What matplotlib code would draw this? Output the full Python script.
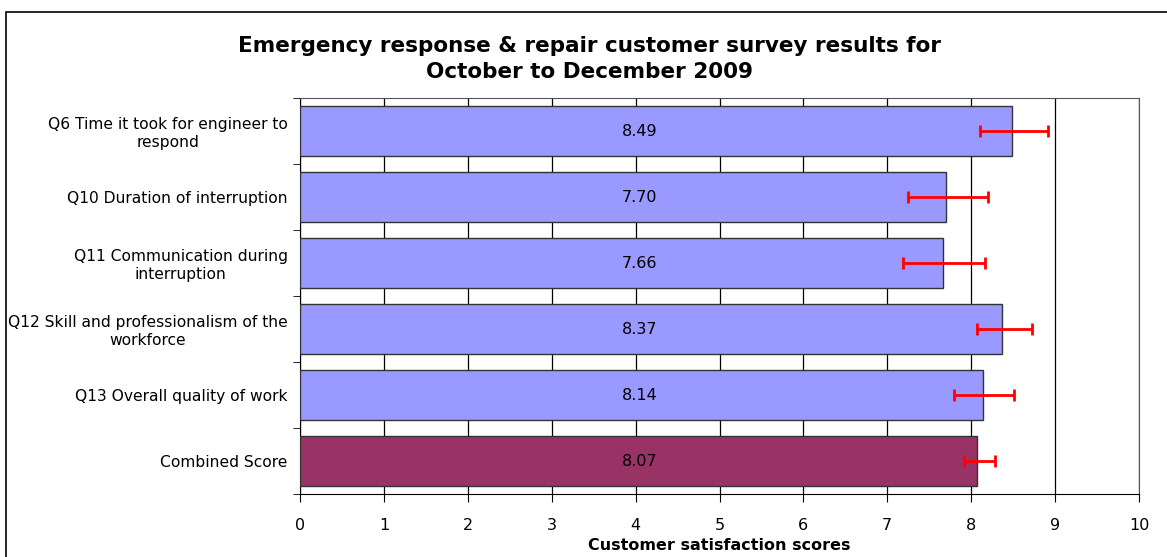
import matplotlib
matplotlib.use("Agg")
import matplotlib.pyplot as plt
from matplotlib.patches import Rectangle
import numpy as np

categories = [
    "Q6 Time it took for engineer to\nrespond",
    "Q10 Duration of interruption",
    "Q11 Communication during\ninterruption",
    "Q12 Skill and professionalism of the\nworkforce",
    "Q13 Overall quality of work",
    "Combined Score",
]
scores = [8.49, 7.70, 7.66, 8.37, 8.14, 8.07]
ci_low = [8.10, 7.25, 7.19, 8.07, 7.79, 7.91]
ci_high = [8.91, 8.20, 8.16, 8.72, 8.51, 8.28]
bar_colors = ["#9999FF"] * 5 + ["#993366"]
x_ticks = list(range(0, 11))

fig = plt.figure(figsize=(11.67, 5.57), dpi=100)
fig.patches.append(Rectangle((6 / 1167, -0.05), 1.2, 1 - 12 / 557 + 0.05,
                             transform=fig.transFigure, fill=False,
                             edgecolor="black", linewidth=1.2))
ax = fig.add_axes([300 / 1167, 1 - 494 / 557, 839 / 1167, 396 / 557])

y = np.arange(len(categories))
ax.barh(y, scores, height=0.76, color=bar_colors, edgecolor="#333333",
        linewidth=1.0, zorder=3)
xerr = [np.array(scores) - np.array(ci_low), np.array(ci_high) - np.array(scores)]
ax.errorbar(scores, y, xerr=xerr, fmt="none", ecolor="red", elinewidth=2,
            capsize=4, capthick=2, zorder=4)
for yi, s in zip(y, scores):
    ax.text(4.05, yi, f"{s:.2f}", ha="center", va="center", fontsize=11.5, zorder=5)

ax.set_xlim(0, 10)
ax.set_ylim(len(categories) - 0.5, -0.5)
ax.set_xticks(x_ticks)
ax.set_xticklabels([str(t) for t in x_ticks], fontsize=11.5)
ax.grid(axis="x", color="black", linewidth=0.9, zorder=0)
ax.set_axisbelow(True)
ax.set_yticks(y)
ax.set_yticklabels(categories, fontsize=11.2, multialignment="center")
ax.set_yticks(np.arange(-0.5, len(categories), 1), minor=True)
ax.tick_params(axis="y", which="major", length=0, pad=9)
ax.tick_params(axis="y", which="minor", length=5, direction="out")
ax.tick_params(axis="x", length=6, direction="out", pad=11)
for sp in ax.spines.values():
    sp.set_color("#555555")
ax.spines["left"].set_color("black")
ax.spines["bottom"].set_color("black")
ax.set_xlabel("Customer satisfaction scores", fontsize=11.5, fontweight="bold", labelpad=4)

fig.text(590 / 1167, 1 - 59 / 557,
         "Emergency response & repair customer survey results for\nOctober to December 2009",
         ha="center", va="center", fontsize=15.5, fontweight="bold", linespacing=1.35)

fig.savefig("out.png", dpi=100)
